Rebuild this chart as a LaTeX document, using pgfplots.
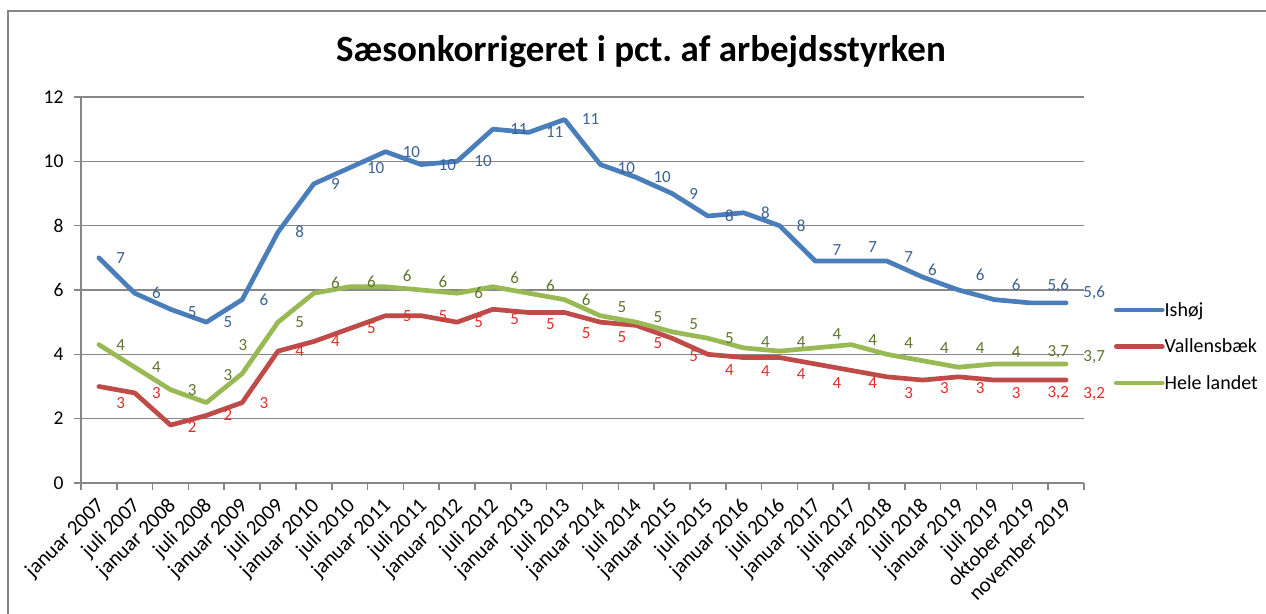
\documentclass[border=0pt]{standalone}
\usepackage{pgfplots}
\pgfplotsset{compat=1.18}
\usepackage{fontspec}
\setmainfont{Carlito}
\frenchspacing
\definecolor{blueline}{HTML}{4A7EBB}
\definecolor{redline}{HTML}{BE4B48}
\definecolor{greenline}{HTML}{98B954}
\definecolor{bluelbl}{HTML}{3B6293}
\definecolor{redlbl}{HTML}{DE2F2B}
\definecolor{greenlbl}{HTML}{5F7530}
\definecolor{gridgray}{HTML}{878787}
\newcommand{\ticksize}{\fontsize{19.5bp}{22bp}\selectfont}
\newcommand{\xticksize}{\fontsize{21bp}{24bp}\selectfont}
\newcommand{\legsize}{\fontsize{20bp}{23bp}\selectfont}
\newcommand{\lblsize}{\fontsize{17bp}{19bp}\selectfont}
\begin{document}
\begin{tikzpicture}
\useasboundingbox (0bp,0bp) rectangle (1266bp,614bp);
\draw[gridgray, line width=1.6bp] (8bp,-20bp) -- (8bp,603bp) -- (1290bp,603bp);
\node[anchor=base, font=\fontsize{37bp}{40bp}\selectfont\bfseries] at (641bp,552bp) {Sæsonkorrigeret i pct.\ af arbejdsstyrken};
\begin{axis}[
  at={(81bp,131bp)}, anchor=south west,
  width=1003bp, height=386bp, scale only axis,
  xmin=-0.5, xmax=27.5, ymin=0, ymax=12,
  ytick={0,2,...,12},
  xtick={0,...,27},
  xticklabels={januar 2007, juli 2007, januar 2008, juli 2008, januar 2009, juli 2009, januar 2010, juli 2010, januar 2011, juli 2011, januar 2012, juli 2012, januar 2013, juli 2013, januar 2014, juli 2014, januar 2015, juli 2015, januar 2016, juli 2016, januar 2017, juli 2017, januar 2018, juli 2018, januar 2019, juli 2019, oktober 2019, november 2019},
  minor xtick={-0.5,0.5,...,27.5},
  axis x line*=bottom, axis y line*=left,
  axis line style={color=gridgray, line width=1.6bp},
  ymajorgrids, grid style={color=gridgray, line width=1.6bp},
  tick align=outside,
  major tick length=7bp, minor tick length=7bp,
  tick style={color=gridgray, line width=1.6bp},
  major x tick style={draw=none},
  /pgf/number format/assume math mode=true,
  ticklabel style={font=\ticksize, text=black},
  yticklabel style={xshift=-7bp},
  xticklabel style={font=\xticksize, xshift=-4bp, yshift=-6bp, rotate=45, anchor=north east, inner sep=0pt},
  clip=false,
  legend cell align=left,
  legend style={at={(1.0299,0.3536)}, anchor=west, draw=none, fill=none, inner sep=0pt, outer sep=0pt, font=\legsize, row sep=17.3bp, nodes={inner sep=0pt, anchor=west, text height=16bp, text depth=3.2bp}},
  legend image code/.code={\draw[#1, line width=4.5bp, line cap=round] (2.25bp,0bp) -- (40.75bp,0bp); \path (0bp,0bp) -- (46bp,0bp);},
  every axis plot/.append style={line width=4.7bp, line join=round, line cap=round, no markers,
    nodes near coords, point meta=explicit symbolic,
    visualization depends on={\thisrow{dx} \as \dx},
    visualization depends on={\thisrow{dy} \as \dy}},
]
\addplot[blueline, every node near coord/.append style={anchor=west, inner sep=0pt, xshift=\dx*1bp, yshift=\dy*1bp, font=\lblsize, text=bluelbl}] table[x=x, y=y, meta=lbl] {
x y lbl dx dy
0 7.0 7 15 0
1 5.9 6 15 0
2 5.4 5 15 -3
3 5.0 5 15 0
4 5.7 6 15 0
5 7.8 8 15 0
6 9.3 9 15 0
7 9.8 10 15 0
8 10.3 10 15 0
9 9.9 10 15 0
10 10.0 10 15 0
11 11.0 11 15 0
12 10.9 11 15 0
13 11.3 11 15 0
14 9.9 10 15 -3
15 9.5 10 15 0
16 9.0 9 15 0
17 8.3 8 15 0
18 8.4 8 15 0
19 8.0 8 15 0
20 6.9 7 15 11
21 6.9 7 15 14
22 6.9 7 15 4
23 6.4 6 3 7
24 6.0 6 15 15
25 5.7 6 15 15
26 5.6 5,6 15 17
27 5.6 5,6 15 10
};
\addlegendentry{Ishøj}
\addplot[redline, every node near coord/.append style={anchor=west, inner sep=0pt, xshift=\dx*1bp, yshift=\dy*1bp, font=\lblsize, text=redlbl}] table[x=x, y=y, meta=lbl] {
x y lbl dx dy
0 3.0 3 15 -17
1 2.8 3 15 0
2 1.8 2 15 -2
3 2.1 2 15 0
4 2.5 3 15 0
5 4.1 4 15 0
6 4.4 4 15 0
7 4.8 5 15 0
8 5.2 5 15 0
9 5.2 5 15 0
10 5.0 5 15 0
11 5.4 5 15 -10
12 5.3 5 15 -12
13 5.3 5 15 -21
14 5.0 5 15 -15
15 4.9 5 15 -18
16 4.5 5 15 -18
17 4.0 4 15 -16
18 3.9 4 15 -13
19 3.9 4 15 -16
20 3.7 4 15 -19
21 3.5 4 15 -13
22 3.3 3 15 -16
23 3.2 3 15 -8
24 3.3 3 15 -11
25 3.2 3 15 -13
26 3.2 3,2 15 -13
27 3.2 3,2 15 -14
};
\addlegendentry{Vallensbæk}
\addplot[greenline, every node near coord/.append style={anchor=west, inner sep=0pt, xshift=\dx*1bp, yshift=\dy*1bp, font=\lblsize, text=greenlbl}] table[x=x, y=y, meta=lbl] {
x y lbl dx dy
0 4.3 4 15 0
1 3.6 4 15 0
2 2.9 3 15 0
3 2.5 3 15 28
4 3.4 3 -6 29
5 5.0 5 15 0
6 5.9 6 15 10
7 6.1 6 15 5
8 6.1 6 15 11
9 6.0 6 15 8
10 5.9 6 15 0
11 6.1 6 15 9
12 5.9 6 15 7
13 5.7 6 15 0
14 5.2 5 15 9
15 5.0 5 15 5
16 4.7 5 15 8
17 4.5 5 15 0
18 4.2 4 15 6
19 4.1 4 15 9
20 4.2 4 15 14
21 4.3 4 15 5
22 4.0 4 15 11
23 3.8 4 15 13
24 3.6 4 15 19
25 3.7 4 15 12
26 3.7 3,7 15 12
27 3.7 3,7 15 7
};
\addlegendentry{Hele landet}
\end{axis}
\end{tikzpicture}
\end{document}
